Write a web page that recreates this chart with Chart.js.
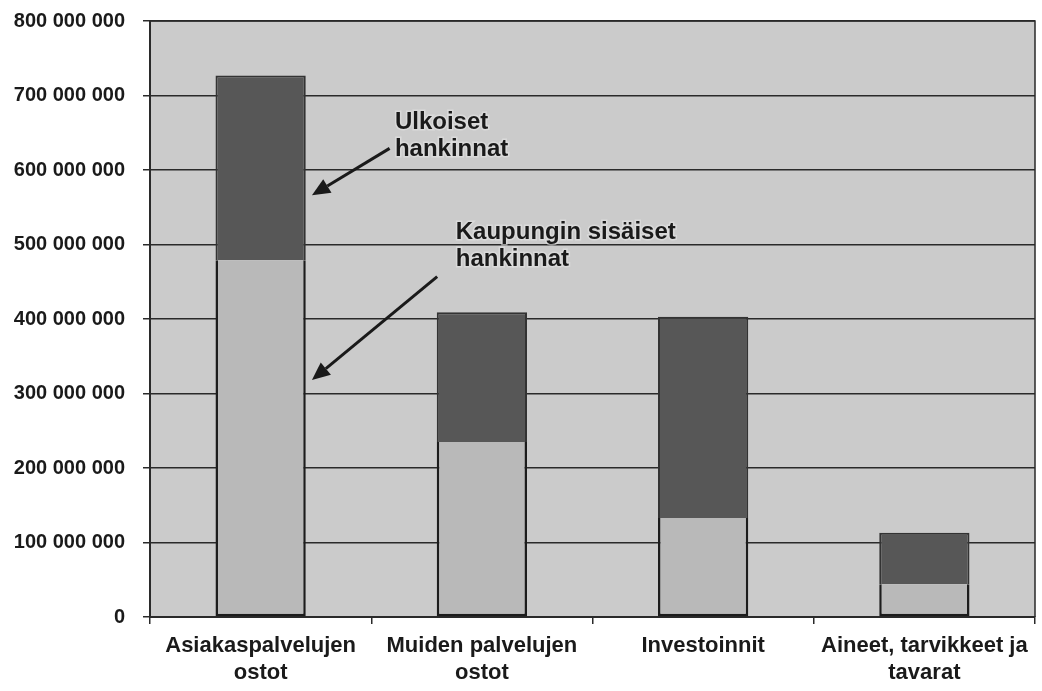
<!DOCTYPE html>
<html>
<head>
<meta charset="utf-8">
<script src="https://cdn.jsdelivr.net/npm/chart.js@4/dist/chart.umd.min.js"></script>
<style>
  html, body { margin: 0; padding: 0; background: #ffffff; }
  #wrap { width: 1042px; height: 691px; position: relative; }
</style>
</head>
<body>
<div id="wrap"><canvas id="c" width="1042" height="691"></canvas></div>
<script>
// ---- data ----
const categories = [
  ['Asiakaspalvelujen', 'ostot'],
  ['Muiden palvelujen', 'ostot'],
  ['Investoinnit'],
  ['Aineet, tarvikkeet ja', 'tavarat']
];
const seriesNames = ['Kaupungin sisäiset hankinnat', 'Ulkoiset hankinnat'];
const internalValues = [479000000, 235000000, 133000000, 44000000];
const externalValues = [248000000, 174000000, 270000000, 69000000];
const yTickValues = [0, 100000000, 200000000, 300000000, 400000000, 500000000, 600000000, 700000000, 800000000];

// annotation labels, anchored in data space (category index, value of first baseline)
const annotationTexts = [
  ['Ulkoiset', 'hankinnat'],
  ['Kaupungin sisäiset', 'hankinnat']
];
const annotationTextAnchors = [
  { x: 0.607, y: 655000000 },
  { x: 0.882, y: 507000000 }
];
const arrowStarts = [
  { x: 0.583, y: 629000000 },
  { x: 0.798, y: 457000000 }
];
const arrowTips = [
  { x: 0.232, y: 566000000 },
  { x: 0.232, y: 318000000 }
];

function fmt(v) {
  return String(v).replace(/\B(?=(\d{3})+(?!\d))/g, ' ');
}

const plotDecor = {
  id: 'plotDecor',
  beforeDraw(chart) {
    const { ctx, chartArea: a } = chart;
    ctx.save();
    ctx.fillStyle = '#cbcbcb';
    ctx.fillRect(a.left, a.top, a.right - a.left, a.bottom - a.top);
    ctx.restore();
  },
  afterDatasetsDraw(chart) {
    const { ctx, chartArea: a, scales } = chart;
    ctx.save();
    ctx.strokeStyle = '#2a2a2a';
    ctx.lineWidth = 1.5;
    ctx.beginPath();
    ctx.moveTo(a.left, a.top);
    ctx.lineTo(a.right, a.top);
    ctx.lineTo(a.right, a.bottom);
    ctx.stroke();

    const xs = scales.x, ys = scales.y;
    // arrows
    for (let i = 0; i < arrowStarts.length; i++) {
      const x1 = xs.getPixelForValue(arrowStarts[i].x), y1 = ys.getPixelForValue(arrowStarts[i].y);
      const x2 = xs.getPixelForValue(arrowTips[i].x), y2 = ys.getPixelForValue(arrowTips[i].y);
      const ang = Math.atan2(y2 - y1, x2 - x1);
      const headLen = 18, headW = 8;
      const bx = x2 - headLen * Math.cos(ang), by = y2 - headLen * Math.sin(ang);
      ctx.strokeStyle = '#1a1a1a';
      ctx.fillStyle = '#1a1a1a';
      ctx.lineWidth = 3;
      ctx.beginPath();
      ctx.moveTo(x1, y1);
      ctx.lineTo(bx, by);
      ctx.stroke();
      ctx.beginPath();
      ctx.moveTo(x2, y2);
      ctx.lineTo(bx + headW * Math.sin(ang), by - headW * Math.cos(ang));
      ctx.lineTo(bx - headW * Math.sin(ang), by + headW * Math.cos(ang));
      ctx.closePath();
      ctx.fill();
    }
    // texts
    ctx.font = 'bold 24px "Liberation Sans", Arial, sans-serif';
    ctx.textBaseline = 'alphabetic';
    ctx.textAlign = 'left';
    for (let i = 0; i < annotationTexts.length; i++) {
      const x = xs.getPixelForValue(annotationTextAnchors[i].x);
      const y = ys.getPixelForValue(annotationTextAnchors[i].y);
      annotationTexts[i].forEach((line, j) => {
        ctx.lineWidth = 3;
        ctx.strokeStyle = 'rgba(228,228,228,0.6)';
        ctx.strokeText(line, x, y + j * 26.5);
        ctx.fillStyle = '#1a1a1a';
        ctx.fillText(line, x, y + j * 26.5);
      });
    }
    ctx.restore();
  }
};

new Chart(document.getElementById('c'), {
  type: 'bar',
  data: {
    labels: categories,
    datasets: [
      {
        label: seriesNames[0],
        data: internalValues,
        backgroundColor: '#b9b9b9',
        borderColor: '#1c1c1c',
        borderWidth: { left: 2.5, right: 2.5, bottom: 2.5, top: 0 },
        borderSkipped: false
      },
      {
        label: seriesNames[1],
        data: externalValues,
        backgroundColor: '#575757',
        borderColor: '#333333',
        borderWidth: { left: 2, right: 2, top: 2, bottom: 0 },
        borderSkipped: false
      }
    ]
  },
  options: {
    responsive: false,
    animation: false,
    devicePixelRatio: 1,
    layout: { padding: { top: 21, right: 7, left: 0, bottom: 0 } },
    datasets: { bar: { categoryPercentage: 0.8, barPercentage: 0.51 } },
    plugins: {
      legend: { display: false },
      tooltip: { enabled: false }
    },
    scales: {
      x: {
        stacked: true,
        offset: true,
        grid: { display: true, drawOnChartArea: false, drawTicks: true, tickLength: 7, color: '#2a2a2a', lineWidth: 1.5, offset: true },
        border: { display: true, color: '#2a2a2a', width: 2 },
        ticks: {
          color: '#1a1a1a',
          padding: 9,
          maxRotation: 0,
          autoSkip: false,
          font: { family: '"Liberation Sans", Arial, sans-serif', size: 22, weight: 'bold', lineHeight: 1.2 }
        },
        afterFit(scale) { scale.height = 74; scale.paddingLeft = 0; scale.paddingRight = 0; }
      },
      y: {
        stacked: true,
        min: 0,
        max: 800000000,
        afterBuildTicks(scale) { scale.ticks = yTickValues.map(v => ({ value: v })); },
        grid: { color: '#2a2a2a', lineWidth: 1.5, tickLength: 7, drawTicks: true },
        border: { display: true, color: '#2a2a2a', width: 2 },
        ticks: {
          color: '#1a1a1a',
          padding: 18,
          callback: (v) => fmt(v),
          font: { family: '"Liberation Sans", Arial, sans-serif', size: 20, weight: 'bold' }
        },
        afterFit(scale) { scale.width = 150; scale.paddingTop = 0; scale.paddingBottom = 0; }
      }
    }
  },
  plugins: [plotDecor]
});
</script>
</body>
</html>
